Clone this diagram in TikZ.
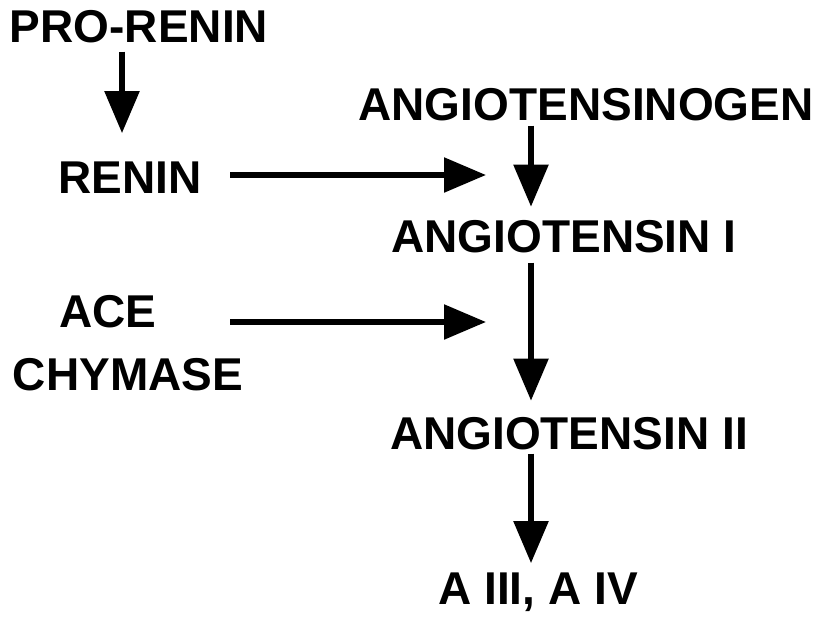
\documentclass[tikz,border=0pt]{standalone}
\usepackage{fontspec}
\setmainfont{Liberation Sans}
\usetikzlibrary{arrows.meta,calc}
\begin{document}
\begin{tikzpicture}[x=1pt,y=-1pt,
  lbl/.style={anchor=base, inner sep=0pt, font=\fontsize{46}{50}\selectfont\bfseries},
  arr/.style={line width=5.5pt, -{Triangle[width=34pt,length=42pt]}}]
\useasboundingbox (0,0) rectangle (824,616);
\node[lbl] (pro) at (139,42) {PRO-RENIN};
\node[lbl] (agen) at (586,120) {ANGIOTENSINOGEN};
\node[lbl] (renin) at (130,193) {RENIN};
\node[lbl] (a1) at (564,252) {ANGIOTENSIN I};
\node[lbl] (ace) at (108,327) {ACE};
\node[lbl] (chy) at (128,390) {CHYMASE};
\node[lbl] (a2) at (569,449) {ANGIOTENSIN II};
\node[lbl] (a34) at (538,604) {A III, A IV};
% columns and rows for connectors
\coordinate (cpro) at (122,0);
\coordinate (cv) at (531,0);
\coordinate (hx1) at (230,0);
\coordinate (hx2) at (486,0);
\coordinate (acey) at (0,322);
\coordinate (reny) at (0,175);
% vertical arrows
\draw[arr] ($(pro.south -| cpro)+(0,9)$) -- ($(renin.north -| cpro)+(0,-28)$);
\draw[arr] ($(agen.south -| cv)+(0,5)$) -- ($(a1.north -| cv)+(0,-13)$);
\draw[arr] ($(a1.south -| cv)+(0,10)$) -- ($(a2.north -| cv)+(0,-16)$);
\draw[arr] ($(a2.south -| cv)+(0,4)$) -- ($(a34.north -| cv)+(0,-9)$);
% horizontal arrows
\draw[arr] (reny -| hx1) -- (reny -| hx2);
\draw[arr] (acey -| hx1) -- (acey -| hx2);
\end{tikzpicture}
\end{document}
